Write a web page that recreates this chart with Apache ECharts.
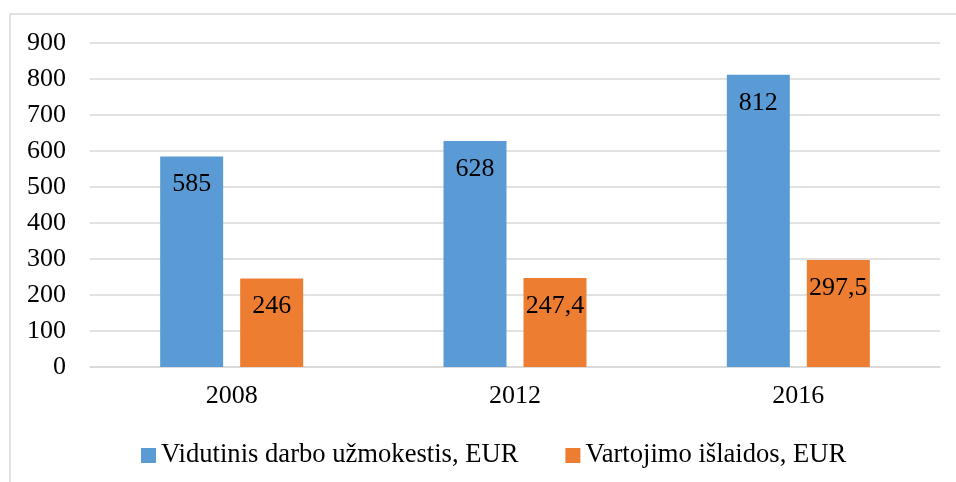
<!DOCTYPE html>
<html><head><meta charset="utf-8">
<script src="https://cdn.jsdelivr.net/npm/echarts@6/dist/echarts.min.js"></script>
<style>html,body{margin:0;padding:0;background:#fff}#c{width:956px;height:482px}</style>
</head><body><div id="c"></div>
<script>
var categories = ['2008', '2012', '2016'];
var seriesNames = ['Vidutinis darbo užmokestis, EUR', 'Vartojimo išlaidos, EUR'];
var wages = [585, 628, 812];
var spending = [246, 247.4, 297.5];
var yTicks = [0, 100, 200, 300, 400, 500, 600, 700, 800, 900];

var font = '"Liberation Serif", "Times New Roman", serif';
var fs = 26;
var chart = echarts.init(document.getElementById('c'));
function fmt(p){ return String(p.value).replace('.', ','); }
chart.setOption({
  animation: false,
  textStyle: { fontFamily: font },
  graphic: [{ type: 'rect', shape: { x: 10, y: 14, width: 1000, height: 600 }, style: { fill: 'none', stroke: '#d9d9d9', lineWidth: 1.5 } }],
  grid: { left: 90, right: 16, top: 43, bottom: 115, containLabel: false },
  legend: {
    left: 136, top: 437, itemWidth: 15, itemHeight: 15, itemGap: 47,
    icon: 'rect',
    textStyle: { fontFamily: font, fontSize: 26.6, color: '#000' },
    data: seriesNames
  },
  xAxis: {
    type: 'category', data: categories,
    axisLine: { lineStyle: { color: '#d9d9d9', width: 1.5 } },
    axisTick: { show: false },
    axisLabel: { fontFamily: font, fontSize: fs, color: '#000', margin: 16 }
  },
  yAxis: {
    type: 'value', min: yTicks[0], max: yTicks[yTicks.length - 1], interval: 100,
    axisLine: { show: false }, axisTick: { show: false },
    splitLine: { lineStyle: { color: '#d9d9d9', width: 1.5 } },
    axisLabel: { fontFamily: font, fontSize: fs, color: '#000', margin: 24 }
  },
  series: [
    { name: seriesNames[0], type: 'bar', data: wages, barWidth: 63, barGap: '27%',
      itemStyle: { color: '#5b9bd5' },
      label: { show: true, position: 'insideTop', distance: 15, fontFamily: font, fontSize: fs, color: '#000', formatter: fmt } },
    { name: seriesNames[1], type: 'bar', data: spending, barWidth: 63,
      itemStyle: { color: '#ed7d31' },
      label: { show: true, position: 'insideTop', distance: 15, fontFamily: font, fontSize: fs, color: '#000', formatter: fmt } }
  ]
});
</script></body></html>
